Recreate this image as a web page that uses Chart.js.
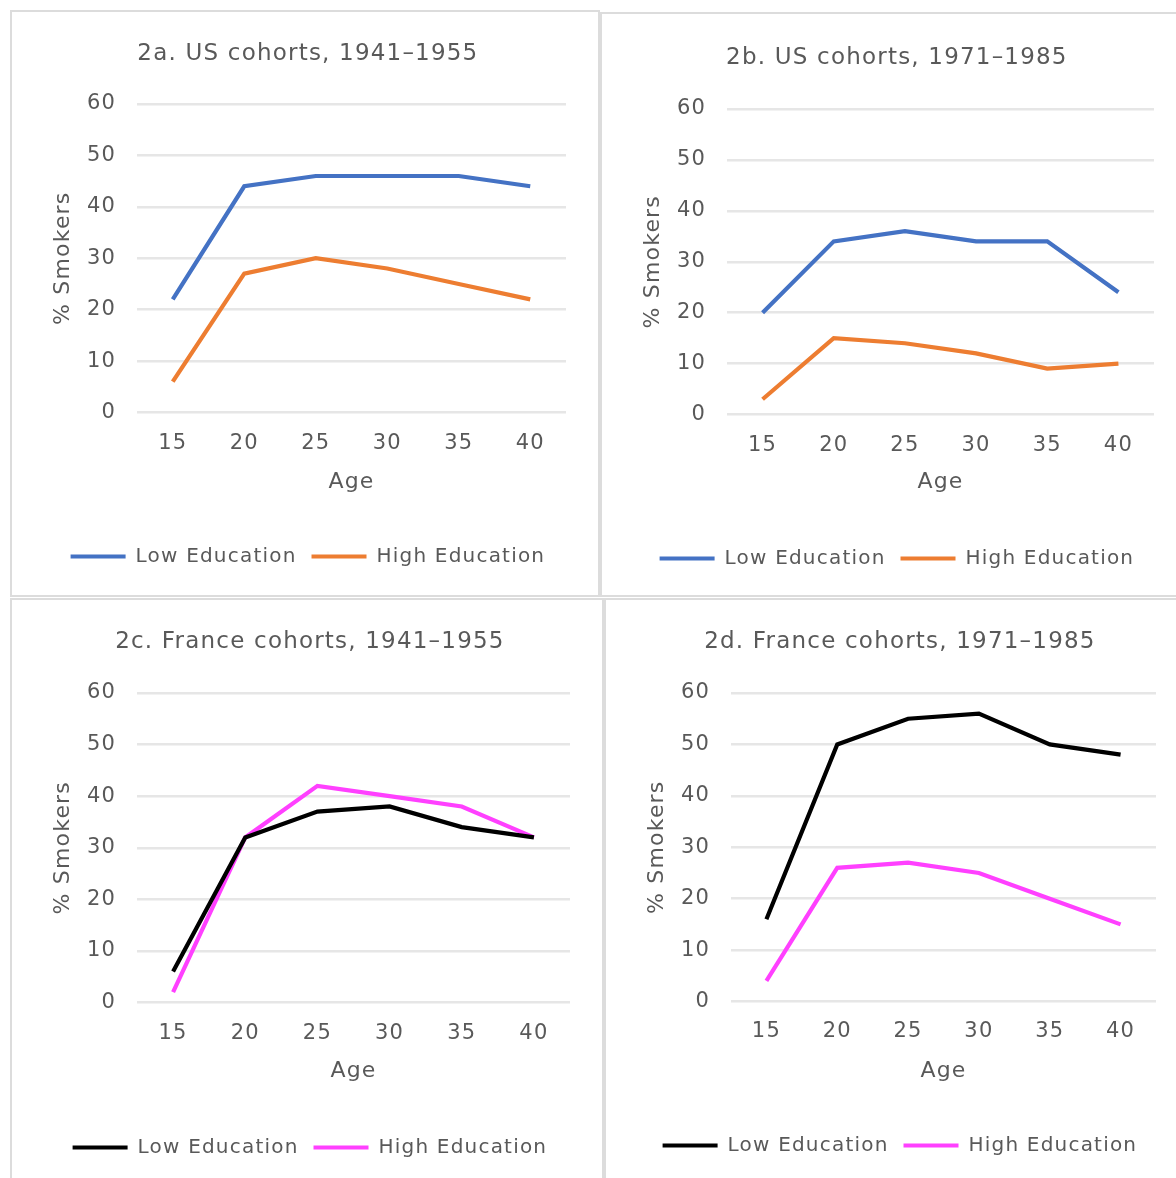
<!DOCTYPE html>
<html>
<head>
<meta charset="utf-8">
<script src="https://cdn.jsdelivr.net/npm/chart.js@4.4.1/dist/chart.umd.min.js"></script>
<style>
  html, body { margin: 0; padding: 0; background: #ffffff; width: 1176px; height: 1178px; overflow: hidden; }
  .panel { position: absolute; outline: 2px solid #dcdcdc; outline-offset: -2px; background: #fff; }
  .panel canvas { position: absolute; left: 0; top: 0; }
</style>
</head>
<body>
<div id="pa" class="panel"><canvas id="ca"></canvas></div>
<div id="pb" class="panel"><canvas id="cb"></canvas></div>
<div id="pc" class="panel"><canvas id="cc"></canvas></div>
<div id="pd" class="panel"><canvas id="cd"></canvas></div>
<script>
// ---- data ----
const ages = ['15', '20', '25', '30', '35', '40'];
const seriesNames = ['Low Education', 'High Education'];
const yTicksMin = 0;
const yTicksMax = 60;
const yTicksStep = 10;

const usOldLow   = [22, 44, 46, 46, 46, 44];
const usOldHigh  = [6, 27, 30, 28, 25, 22];
const usNewLow   = [20, 34, 36, 34, 34, 24];
const usNewHigh  = [3, 15, 14, 12, 9, 10];
const frOldLow   = [6, 32, 37, 38, 34, 32];
const frOldHigh  = [2, 32, 42, 40, 38, 32];
const frNewLow   = [16, 50, 55, 56, 50, 48];
const frNewHigh  = [4, 26, 27, 25, 20, 15];

const titles = [
  '2a. US cohorts, 1941\u20131955',
  '2b. US cohorts, 1971\u20131985',
  '2c. France cohorts, 1941\u20131955',
  '2d. France cohorts, 1971\u20131985'
];
const xTitle = 'Age';
const yTitle = '% Smokers';

// ---- styling / layout ----
const FONT = "'DejaVu Sans', sans-serif";
const TEXT = '#595959';
const GRID = '#e6e6e6';
const TITLE_SIZE = 23, AXIS_TITLE_SIZE = 22, TICK_SIZE = 21, LEGEND_SIZE = 20;
const LEG_PAD = 15;
const SPACING = '1.2px';

const panels = [
  { div: 'pa', canvas: 'ca', title: titles[0], low: usOldLow, high: usOldHigh, colors: ['#4472C4', '#ED7D31'],
    box: { x: 10, y: 10, w: 590, h: 587 },
    plot: { l: 137, r: 566, t: 102, b: 411 }, titleY: 52, yTitleX: 63, xLabY: 441, xTitleY: 481, legY: 555 },
  { div: 'pb', canvas: 'cb', title: titles[1], low: usNewLow, high: usNewHigh, colors: ['#4472C4', '#ED7D31'],
    box: { x: 600, y: 12, w: 580, h: 585 },
    plot: { l: 727, r: 1154, t: 107, b: 413 }, titleY: 56, yTitleX: 653, xLabY: 443, xTitleY: 481, legY: 557 },
  { div: 'pc', canvas: 'cc', title: titles[2], low: frOldLow, high: frOldHigh, colors: ['#000000', '#FF40FF'],
    box: { x: 10, y: 598, w: 594, h: 584 },
    plot: { l: 137, r: 570, t: 691, b: 1001 }, titleY: 640, yTitleX: 63, xLabY: 1031, xTitleY: 1070, legY: 1146 },
  { div: 'pd', canvas: 'cd', title: titles[3], low: frNewLow, high: frNewHigh, colors: ['#000000', '#FF40FF'],
    box: { x: 604, y: 598, w: 576, h: 584 },
    plot: { l: 731, r: 1156, t: 691, b: 1000 }, titleY: 640, yTitleX: 657, xLabY: 1029, xTitleY: 1070, legY: 1144 }
];

const spacingPlugin = {
  id: 'letterSpacing',
  beforeLayout(chart) { chart.ctx.letterSpacing = SPACING; },
  beforeDraw(chart) { chart.ctx.letterSpacing = SPACING; }
};

function build(p) {
  const div = document.getElementById(p.div);
  div.style.left = p.box.x + 'px'; div.style.top = p.box.y + 'px';
  div.style.width = p.box.w + 'px'; div.style.height = p.box.h + 'px';
  const cv = document.getElementById(p.canvas);
  cv.width = p.box.w; cv.height = p.box.h;
  cv.style.width = p.box.w + 'px'; cv.style.height = p.box.h + 'px';

  const tLH = TITLE_SIZE * 1.2;
  const aLH = AXIS_TITLE_SIZE * 1.2;
  const titleC = p.titleY - p.box.y + 2;
  const plotT = p.plot.t - p.box.y + 2;
  const plotB = p.plot.b - p.box.y;
  const plotL = p.plot.l - p.box.x;
  const padR = p.box.w - (p.plot.r - p.box.x);
  const padL = (p.yTitleX - p.box.x) - aLH / 2;
  const yW = plotL - padL;
  const legC = p.legY - p.box.y;
  const padB = Math.max(0, p.box.h - legC - LEG_PAD - LEGEND_SIZE / 2 + 3.5);
  const legTop = legC - LEG_PAD - LEGEND_SIZE / 2;
  const xH = legTop - plotB;
  const xTitlePadB = (plotB + xH) - (p.xTitleY - p.box.y) - aLH / 2;
  const xTickPad = (p.xLabY - p.plot.b) - 12;

  new Chart(cv, {
    type: 'line',
    data: {
      labels: ages,
      datasets: [
        { label: seriesNames[0], data: p.low, borderColor: p.colors[0], backgroundColor: p.colors[0],
          borderWidth: 4.2, pointRadius: 0, tension: 0 },
        { label: seriesNames[1], data: p.high, borderColor: p.colors[1], backgroundColor: p.colors[1],
          borderWidth: 4.2, pointRadius: 0, tension: 0 }
      ]
    },
    plugins: [spacingPlugin],
    options: {
      responsive: false,
      animation: false,
      layout: { padding: { left: padL, right: padR, top: 0, bottom: padB } },
      plugins: {
        title: { display: true, text: p.title, color: TEXT,
          font: { family: FONT, size: TITLE_SIZE, weight: 'normal' },
          padding: { top: titleC - tLH / 2, bottom: plotT - titleC - tLH / 2 } },
        legend: { position: 'bottom',
          labels: { usePointStyle: true, pointStyle: 'line', pointStyleWidth: 55, padding: LEG_PAD,
            color: TEXT, font: { family: FONT, size: LEGEND_SIZE } } },
        tooltip: { enabled: false }
      },
      scales: {
        x: {
          type: 'category', offset: true,
          grid: { display: false, drawTicks: false },
          border: { display: false },
          ticks: { padding: xTickPad, color: TEXT, maxRotation: 0, font: { family: FONT, size: TICK_SIZE } },
          title: { display: true, text: xTitle, color: TEXT, font: { family: FONT, size: AXIS_TITLE_SIZE },
            padding: { top: 0, bottom: xTitlePadB } },
          afterFit: s => { s.height = xH; }
        },
        y: {
          min: yTicksMin, max: yTicksMax,
          grid: { color: GRID, lineWidth: 2.5, drawTicks: false },
          border: { display: false },
          ticks: { stepSize: yTicksStep, padding: 21, color: TEXT, font: { family: FONT, size: TICK_SIZE } },
          title: { display: true, text: yTitle, color: TEXT, font: { family: FONT, size: AXIS_TITLE_SIZE },
            padding: { top: 0, bottom: 0 } },
          afterFit: s => { s.width = yW; }
        }
      }
    }
  });
}
panels.forEach(build);
</script>
</body>
</html>
